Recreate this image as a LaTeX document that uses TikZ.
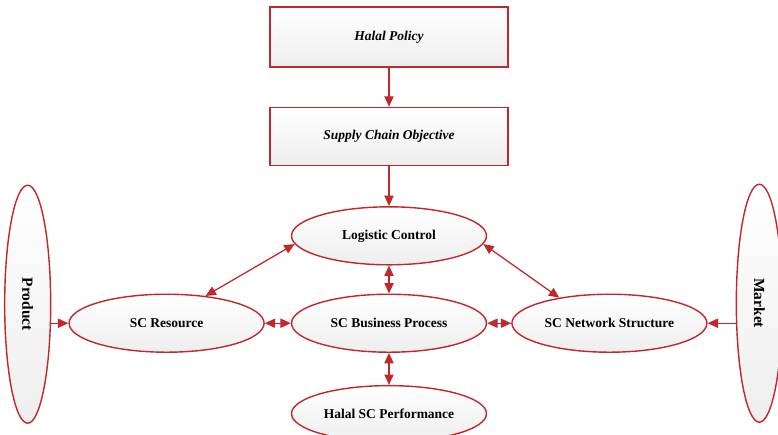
\documentclass[tikz,border=0pt]{standalone}
\usepackage{fontspec}
\setmainfont{Liberation Serif}
\usepackage{graphicx}
\usepackage{xcolor}
\definecolor{halalred}{HTML}{C0282E}
\definecolor{boxgray}{HTML}{EEEEEE}
\usepackage{tikz}
\usetikzlibrary{shapes,arrows.meta,positioning}

\begin{document}
\begin{tikzpicture}[
        node distance=1cm,
        >={Triangle[length=2.6mm,width=2.3mm]},
        rectbox/.style={rectangle, draw=halalred, line width=1pt, top color=white, bottom color=boxgray, minimum width=5.95cm, minimum height=1.5cm, align=center, font=\fontsize{9.6}{11}\selectfont\bfseries\itshape},
        oval/.style={ellipse, draw=halalred, line width=1pt, top color=white, bottom color=boxgray, inner sep=0pt, minimum width=4.875cm, minimum height=1.45cm, align=center, font=\fontsize{9.6}{11}\selectfont\bfseries},
        sideoval/.style={oval, minimum width=1.15cm, minimum height=5.95cm, font=\fontsize{11}{13}\selectfont\bfseries},
        arrow/.style={->, line width=0.9pt, color=halalred},
        dblarrow/.style={<->, line width=0.9pt, color=halalred}
    ]

        \useasboundingbox (0,0) rectangle (19.45,-10.85);

        % Policy and objective
        \node[rectbox] (policy) at (9.725,-0.925) {Halal Policy};
        \node[rectbox, below=0.975cm of policy, minimum height=1.45cm] (objective) {Supply Chain Objective};

        % Centre column
        \node[oval, below=of objective] (logistic) {Logistic Control};
        \node[oval, below=0.7cm of logistic] (process) {SC Business Process};
        \node[oval, below=0.8cm of process, minimum height=1.4cm] (performance) {Halal SC Performance};

        % Side ovals
        \node[oval, left=0.65cm of process] (resource) {SC Resource};
        \node[oval, right=0.6cm of process] (network) {SC Network Structure};

        % Product and market
        \node[sideoval, left=0.425cm of resource, yshift=0.475cm] (product) {\rotatebox{-90}{Product}};
        \node[sideoval, right=0.7cm of network, yshift=0.5cm] (market) {\rotatebox{-90}{Market}};

        % Arrows
        \draw[arrow] (policy) -- (objective);
        \draw[arrow] (objective) -- (logistic);
        \draw[dblarrow] (logistic) -- (process);
        \draw[dblarrow] (process) -- (performance);
        \draw[dblarrow] (resource) -- (process);
        \draw[dblarrow] (process) -- (network);
        \draw[dblarrow] (logistic.185) -- (resource.35);
        \draw[dblarrow] (logistic.-5) -- (network.153);
        \draw[arrow] (product.east |- resource) -- (resource);
        \draw[arrow] (market.west |- network) -- (network);

    \end{tikzpicture}
\end{document}
